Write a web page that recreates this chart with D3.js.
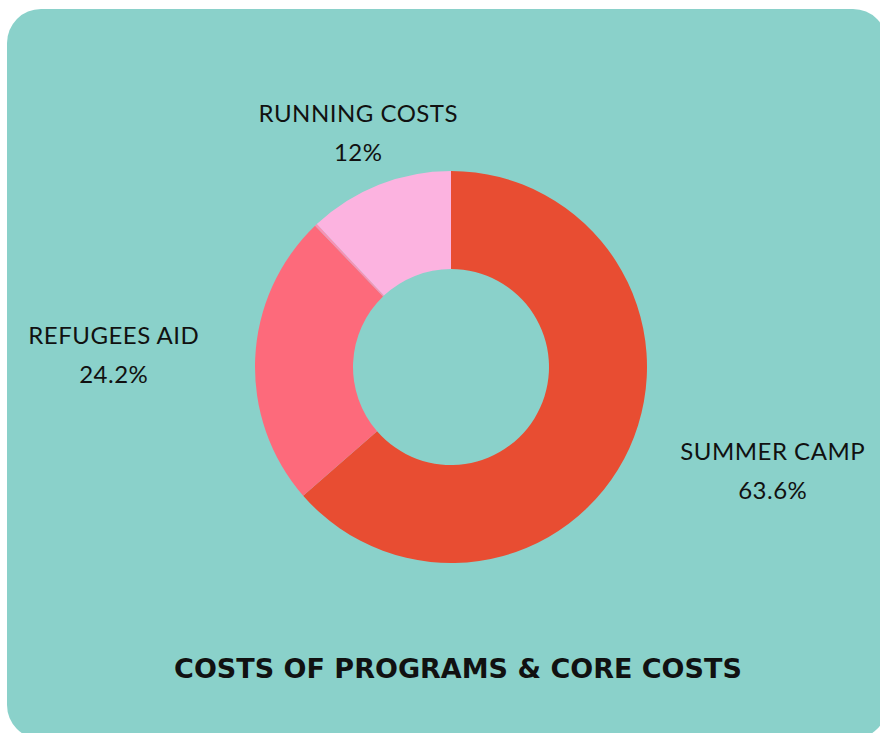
<!DOCTYPE html>
<html>
<head>
<meta charset="utf-8">
<script src="https://cdn.jsdelivr.net/npm/d3@7"></script>
<style>
  body { margin: 0; background: #fff; }
  text { font-family: Lato, "Open Sans", sans-serif; fill: #111; }
</style>
</head>
<body>
<script>
var categories = ['SUMMER CAMP', 'REFUGEES AID', 'OTHER', 'RUNNING COSTS'];
var values = [63.6, 24.2, 0.2, 12];
var percentLabels = ['63.6%', '24.2%', '', '12%'];
var colors = ['#e84d32', '#fd6a7b', '#fb8fb3', '#fcb3e0'];
var title = 'COSTS OF PROGRAMS & CORE COSTS';

var width = 880, height = 733;
var cx = 451, cy = 367;
var outerR = 196, innerR = 98, labelR = 252;

var svg = d3.select('body').append('svg')
	.attr('width', width)
	.attr('height', height);

// card background
svg.append('rect')
	.attr('x', 7)
	.attr('y', 9)
	.attr('width', 880)
	.attr('height', 730)
	.attr('rx', 34)
	.attr('fill', '#8ad1ca');

var data = categories.map(function(c, i) {
	return { name: c, value: values[i], label: percentLabels[i], color: colors[i] };
});

var pie = d3.pie()
	.sort(null)
	.value(function(d) { return d.value; });

var arc = d3.arc()
	.innerRadius(innerR)
	.outerRadius(outerR);

var g = svg.append('g')
	.attr('transform', 'translate(' + cx + ',' + cy + ')');

var arcs = pie(data);

g.selectAll('path')
	.data(arcs)
	.enter().append('path')
		.attr('d', arc)
		.attr('fill', function(d) { return d.data.color; });

// outside labels, both lines centred in a block that sits against the label radius
var lineH = 39;
arcs.forEach(function(a) {
	if (!a.data.label) return;
	var mid = (a.startAngle + a.endAngle) / 2;
	var s = Math.sin(mid), c = -Math.cos(mid);
	var px = s * labelR, py = c * labelR;
	var t = g.append('text')
		.attr('text-anchor', 'middle')
		.style('font-size', '24px')
		.style('letter-spacing', '0.5px');
	var l1 = t.append('tspan').text(a.data.name);
	var l2 = t.append('tspan').text(a.data.label);
	var w = Math.max(l1.node().getComputedTextLength(), l2.node().getComputedTextLength());
	var x = px, y0;
	if (Math.abs(s) > 0.6) {
		x = px + (s > 0 ? w / 2 : -w / 2);
		y0 = py - lineH / 2 + 8;
	} else if (c < 0) {
		y0 = py - 11;
	} else {
		y0 = py + 24;
	}
	l1.attr('x', x).attr('y', y0);
	l2.attr('x', x).attr('y', y0 + lineH);
});

svg.append('text')
	.attr('x', 458)
	.attr('y', 678)
	.attr('text-anchor', 'middle')
	.style('font-family', '"DejaVu Sans", sans-serif')
	.style('font-size', '27px')
	.style('font-weight', 'bold')
	.text(title);
</script>
</body>
</html>
